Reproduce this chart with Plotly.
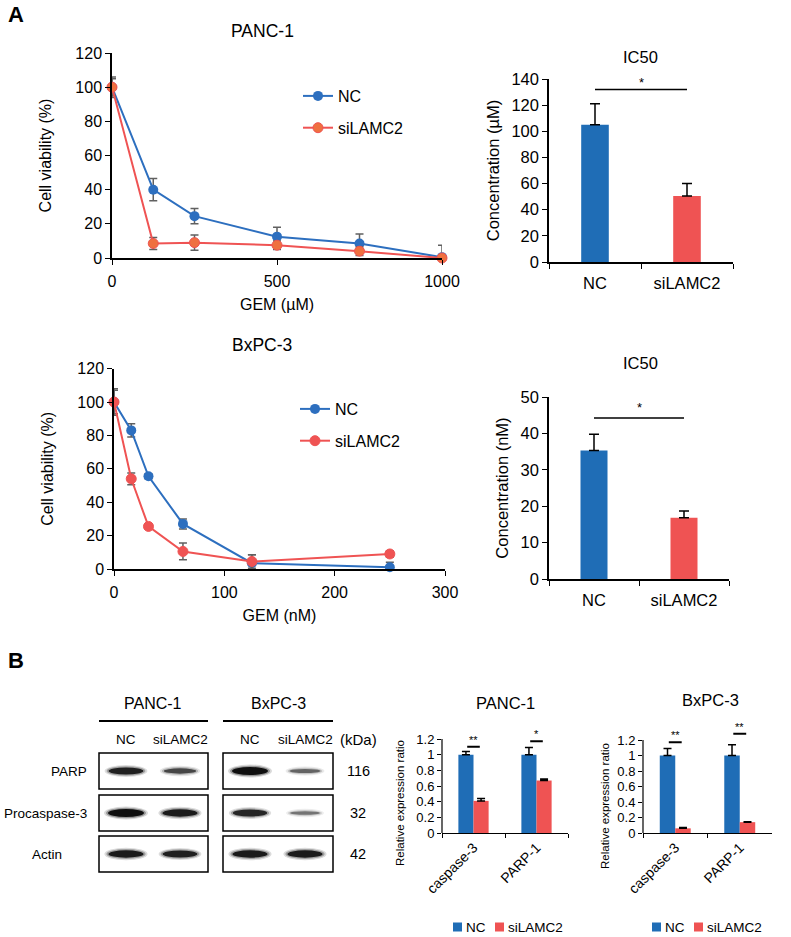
import plotly.graph_objects as go

W, H = 791, 937
FONT = "Liberation Sans, Arial, sans-serif"


def fx(px):
    return px / W


def fy(py):
    return 1 - py / H


# ---------------- data ----------------
panc_dose = [0, 125, 250, 500, 750, 1000]
panc_nc = [100, 40, 24.5, 12.5, 8.5, 0.5]
panc_nc_err = [6, 6.5, 4.5, 5.5, 5.5, 7]
panc_si = [100, 8.5, 9, 7.5, 4, 0]
panc_si_err = [5, 3.5, 4.5, 2.5, 2.5, 1]

bx_dose = [0, 15.625, 31.25, 62.5, 125, 250]
bx_nc = [100, 83, 55.5, 27, 3.5, 1]
bx_nc_err = [8, 4, 1.5, 3, 5, 3]
bx_si = [100, 54, 25.5, 10.5, 4.5, 9]
bx_si_err = [7, 3.5, 1.5, 5, 4, 2]

groups = ["NC", "siLAMC2"]
ic50_panc = [105, 50.5]
ic50_panc_err = [16, 9.5]
ic50_bx = [35.3, 16.8]
ic50_bx_err = [4.5, 1.9]

genes = ["caspase-3", "PARP-1"]
rel_panc_nc = [1.0, 1.0]
rel_panc_nc_err = [0.04, 0.09]
rel_panc_si = [0.41, 0.67]
rel_panc_si_err = [0.03, 0.02]
rel_bx_nc = [1.0, 1.0]
rel_bx_nc_err = [0.09, 0.14]
rel_bx_si = [0.06, 0.14]
rel_bx_si_err = [0.01, 0.005]
rel_panc_sig = ["**", "*"]
rel_bx_sig = ["**", "**"]
rel_panc_sig_y = [1.1, 1.17]
rel_bx_sig_y = [1.17, 1.28]

blot_rows = ["PARP", "Procaspase-3", "Actin"]
blot_kda = ["116", "32", "42"]
blot_cells = ["PANC-1", "BxPC-3"]
# band intensity per row: [PANC-1 NC, PANC-1 siLAMC2, BxPC-3 NC, BxPC-3 siLAMC2]
blot_intensity = [
    [0.85, 0.55, 1.0, 0.35],
    [1.0, 0.9, 0.8, 0.25],
    [0.9, 0.85, 0.9, 0.9],
]

BLUE = "#1f6db6"
RED = "#ef5353"
ORANGE = "#ef7040"
LBLUE = "#2d6fbf"
ERRGRAY = "#606060"

fig = go.Figure()

# ---------------- line charts ----------------
def line_pair(x, nc, nce, si, sie, xa, ya, leg, si_marker):
    fig.add_trace(go.Scatter(
        x=x, y=nc, mode="lines+markers", name="NC",
        line=dict(color=LBLUE, width=2),
        marker=dict(color=LBLUE, size=10),
        error_y=dict(type="data", array=nce, color=ERRGRAY, thickness=1.5, width=4),
        xaxis=xa, yaxis=ya, legend=leg, legendgroup=leg + "nc", cliponaxis=False))
    fig.add_trace(go.Scatter(
        x=x, y=si, mode="lines+markers", name="siLAMC2",
        line=dict(color=RED, width=2),
        marker=dict(color=si_marker, size=10, line=dict(color=RED, width=1)),
        error_y=dict(type="data", array=sie, color=ERRGRAY, thickness=1.5, width=4),
        xaxis=xa, yaxis=ya, legend=leg, legendgroup=leg + "si", cliponaxis=False))


line_pair(panc_dose, panc_nc, panc_nc_err, panc_si, panc_si_err, "x", "y", "legend", ORANGE)
line_pair(bx_dose, bx_nc, bx_nc_err, bx_si, bx_si_err, "x3", "y3", "legend2", RED)

# ---------------- IC50 bars ----------------
fig.add_trace(go.Bar(
    x=groups, y=ic50_panc, marker=dict(color=[BLUE, RED], line=dict(width=0)), width=0.3,
    error_y=dict(type="data", array=ic50_panc_err, arrayminus=[0, 0], symmetric=False,
                 color="black", thickness=1.5, width=5),
    xaxis="x2", yaxis="y2", showlegend=False))
fig.add_trace(go.Bar(
    x=groups, y=ic50_bx, marker=dict(color=[BLUE, RED], line=dict(width=0)), width=0.3,
    error_y=dict(type="data", array=ic50_bx_err, arrayminus=[0, 0], symmetric=False,
                 color="black", thickness=1.5, width=5),
    xaxis="x4", yaxis="y4", showlegend=False))

# ---------------- relative expression bars ----------------
def rel_pair(nc, nce, si, sie, xa, ya):
    fig.add_trace(go.Bar(
        x=genes, y=nc, name="NC", marker=dict(color=BLUE, line=dict(width=0)),
        error_y=dict(type="data", array=nce, arrayminus=[0] * len(nce), symmetric=False,
                     color="black", thickness=1.5, width=4),
        xaxis=xa, yaxis=ya, showlegend=False))
    fig.add_trace(go.Bar(
        x=genes, y=si, name="siLAMC2", marker=dict(color=RED, line=dict(width=0)),
        error_y=dict(type="data", array=sie, arrayminus=[0] * len(sie), symmetric=False,
                     color="black", thickness=1.5, width=4),
        xaxis=xa, yaxis=ya, showlegend=False))


rel_pair(rel_panc_nc, rel_panc_nc_err, rel_panc_si, rel_panc_si_err, "x5", "y5")
rel_pair(rel_bx_nc, rel_bx_nc_err, rel_bx_si, rel_bx_si_err, "x6", "y6")

# ---------------- axes ----------------
tickfont = dict(family=FONT, size=16, color="black")
ic_font = dict(family=FONT, size=16.5, color="black")
common = dict(showline=True, linecolor="black", linewidth=1.5, ticks="outside",
              tickcolor="black", ticklen=5, tickwidth=1.2, showgrid=False,
              zeroline=False, automargin=False, tickfont=tickfont)

fig.update_layout(
    xaxis=dict(common, domain=[fx(112), fx(442)], range=[0, 1000], tickvals=[0, 500, 1000],
               anchor="y", ticklabelstandoff=3,
               title=dict(text="GEM (µM)", font=tickfont, standoff=10)),
    yaxis=dict(common, domain=[fy(258), fy(53)], range=[0, 120], dtick=20, anchor="x",
               title=dict(text="Cell viability (%)", font=tickfont, standoff=20)),
    xaxis3=dict(common, domain=[fx(114), fx(445)], range=[0, 300], dtick=100, anchor="y3",
                ticklabelstandoff=3,
                title=dict(text="GEM (nM)", font=tickfont, standoff=10)),
    yaxis3=dict(common, domain=[fy(569), fy(368.6)], range=[0, 120], dtick=20, anchor="x3",
                title=dict(text="Cell viability (%)", font=tickfont, standoff=20)),
    xaxis2=dict(common, domain=[fx(549), fx(733)], type="category", tickson="boundaries",
                anchor="y2", ticklabelstandoff=5, tickfont=ic_font),
    yaxis2=dict(common, domain=[fy(262), fy(79)], range=[0, 140], dtick=20, anchor="x2",
                tickfont=ic_font,
                title=dict(text="Concentration (µM)", font=ic_font, standoff=8)),
    xaxis4=dict(common, domain=[fx(549), fx(729)], type="category", tickson="boundaries",
                anchor="y4", ticklabelstandoff=5, tickfont=ic_font),
    yaxis4=dict(common, domain=[fy(579), fy(397)], range=[0, 50], dtick=10, anchor="x4",
                tickfont=ic_font,
                title=dict(text="Concentration (nM)", font=ic_font, standoff=8)),
)

small_tick = dict(family=FONT, size=13, color="black")
rel_y = dict(showline=False, ticks="outside", tickcolor="black", ticklen=4, tickwidth=1,
             showgrid=False, zeroline=False, automargin=False, range=[0, 1.5],
             tickvals=[0, 0.2, 0.4, 0.6, 0.8, 1.0, 1.2],
             ticktext=["0", "0.2", "0.4", "0.6", "0.8", "1", "1.2"], tickfont=small_tick)
rel_x = dict(showline=True, linecolor="black", linewidth=1.2, ticks="outside",
             tickcolor="black", ticklen=4, type="category", tickson="boundaries",
             showgrid=False, zeroline=False, automargin=False, tickangle=-45,
             tickfont=dict(family=FONT, size=14, color="black"))
fig.update_layout(
    xaxis5=dict(rel_x, domain=[fx(442), fx(568)], anchor="y5"),
    yaxis5=dict(rel_y, domain=[fy(833), fy(833 - 1.5 * 94 / 1.2)], anchor="x5"),
    xaxis6=dict(rel_x, domain=[fx(643), fx(772)], anchor="y6"),
    yaxis6=dict(rel_y, domain=[fy(833), fy(833 - 1.5 * 93 / 1.2)], anchor="x6"),
    bargap=0.52, bargroupgap=0, barmode="group",
)

shapes = []
annotations = []

# y axis lines for relative-expression charts (stop at 1.2)
for xa, ya in (("x5", "y5"), ("x6", "y6")):
    shapes.append(dict(type="line", xref=xa + " domain", yref=ya, x0=0, x1=0, y0=0, y1=1.2,
                       line=dict(color="black", width=1.2)))

# significance marks IC50
for xa, ya, yline, ystar in (("x2", "y2", 132, 137.5), ("x4", "y4", 44.2, 47)):
    shapes.append(dict(type="line", xref=xa, yref=ya, x0=0, x1=1, y0=yline, y1=yline,
                       line=dict(color="black", width=1.5)))
    annotations.append(dict(text="*", xref=xa, yref=ya, x=0.5, y=ystar, showarrow=False,
                            font=dict(family=FONT, size=13, color="black")))

# significance marks relative expression
for xa, ya, sigs, ys in (("x5", "y5", rel_panc_sig, rel_panc_sig_y),
                         ("x6", "y6", rel_bx_sig, rel_bx_sig_y)):
    for i, (s, yv) in enumerate(zip(sigs, ys)):
        shapes.append(dict(type="line", xref=xa, yref=ya, x0=i - 0.1, x1=i + 0.1, y0=yv, y1=yv,
                           line=dict(color="black", width=2)))
        annotations.append(dict(text=s, xref=xa, yref=ya, x=i, y=yv + 0.09, showarrow=False,
                                font=dict(family=FONT, size=11, color="black")))


def ptext(text, x, y, size=15, xanchor="center", bold=False, angle=0):
    annotations.append(dict(text=("<b>%s</b>" % text) if bold else text, xref="paper", yref="paper",
                            x=fx(x), y=fy(y), xanchor=xanchor, yanchor="middle", showarrow=False,
                            textangle=angle,
                            font=dict(family=FONT, size=size, color="black")))


ptext("A", 6, 15, 22, "left", True)
ptext("B", 6, 660, 22, "left", True)
ptext("PANC-1", 262, 31, 17.5)
ptext("BxPC-3", 262, 345, 17.5)
ptext("IC50", 640, 57, 16.5)
ptext("IC50", 640, 363, 16.5)
ptext("PANC-1", 505, 703, 16.5)
ptext("BxPC-3", 710, 700, 16.5)
ptext("Relative expression ratio", 400, 803, 11.5, angle=-90)
ptext("Relative expression ratio", 605, 806, 11.5, angle=-90)

# bottom legends (square + label)
for sq_x, txt_x, name, col in ((453, 464, "NC", BLUE), (495, 506, "siLAMC2", RED),
                               (652, 663, "NC", BLUE), (694, 705, "siLAMC2", RED)):
    shapes.append(dict(type="rect", xref="paper", yref="paper", x0=fx(sq_x), x1=fx(sq_x + 9),
                       y0=fy(931.5), y1=fy(922.5), line=dict(width=0), fillcolor=col))
    ptext(name, txt_x, 927, 13.5, "left")

# ---------------- western blot ----------------
cell_cx = [153, 278]
cell_x0 = [99, 223]
cell_x1 = [208, 333]
lane_cx = [126, 180, 250, 305]
lane_lbl = ["NC", "siLAMC2", "NC", "siLAMC2"]
row_cy = [771, 813, 854]
half_h = 18

for c, name in enumerate(blot_cells):
    ptext(name, cell_cx[c], 703, 16)
    shapes.append(dict(type="line", xref="paper", yref="paper", x0=fx(cell_x0[c]), x1=fx(cell_x1[c]),
                       y0=fy(721), y1=fy(721), line=dict(color="black", width=2)))
for l, lbl in enumerate(lane_lbl):
    ptext(lbl, lane_cx[l], 739, 13.5)
ptext("(kDa)", 358, 739, 15)

for r, row in enumerate(blot_rows):
    cy = row_cy[r]
    if row == "Actin":
        ptext(row, 47, cy, 13.5)
    else:
        ptext(row, 89, cy, 13.5, "right")
    ptext(blot_kda[r], 358, cy, 14.5)
    for c in range(2):
        shapes.append(dict(type="rect", xref="paper", yref="paper",
                           x0=fx(cell_x0[c]), x1=fx(cell_x1[c]),
                           y0=fy(cy + half_h), y1=fy(cy - half_h),
                           line=dict(color="black", width=1.5), fillcolor="white", layer="below"))
    for l in range(4):
        inten = blot_intensity[r][l]
        bw = 28 + 8 * inten
        bh = 2 + 6 * inten
        for dw, dh, op in ((8, 5, 0.15), (4, 2.5, 0.3), (0, 0, 0.9)):
            shapes.append(dict(type="circle", xref="paper", yref="paper",
                               x0=fx(lane_cx[l] - (bw + dw) / 2), x1=fx(lane_cx[l] + (bw + dw) / 2),
                               y0=fy(cy + (bh + dh) / 2), y1=fy(cy - (bh + dh) / 2),
                               line=dict(width=0), fillcolor="black",
                               opacity=op * (0.3 + 0.7 * inten), layer="above"))

leg_font = dict(family=FONT, size=16, color="black")
fig.update_layout(
    width=W, height=H, margin=dict(l=0, r=0, t=0, b=0, autoexpand=False),
    plot_bgcolor="white", paper_bgcolor="white",
    font=dict(family=FONT, color="black"),
    shapes=shapes, annotations=annotations,
    legend=dict(x=fx(298), y=fy(79), xanchor="left", yanchor="top", font=leg_font,
                bgcolor="rgba(0,0,0,0)", tracegroupgap=8, itemwidth=30),
    legend2=dict(x=fx(295), y=fy(392), xanchor="left", yanchor="top", font=leg_font,
                 bgcolor="rgba(0,0,0,0)", tracegroupgap=8, itemwidth=30),
)

fig.write_html("out.html", config={"displayModeBar": False},
               post_script="document.body.style.margin='0px';document.body.style.overflow='hidden';")
